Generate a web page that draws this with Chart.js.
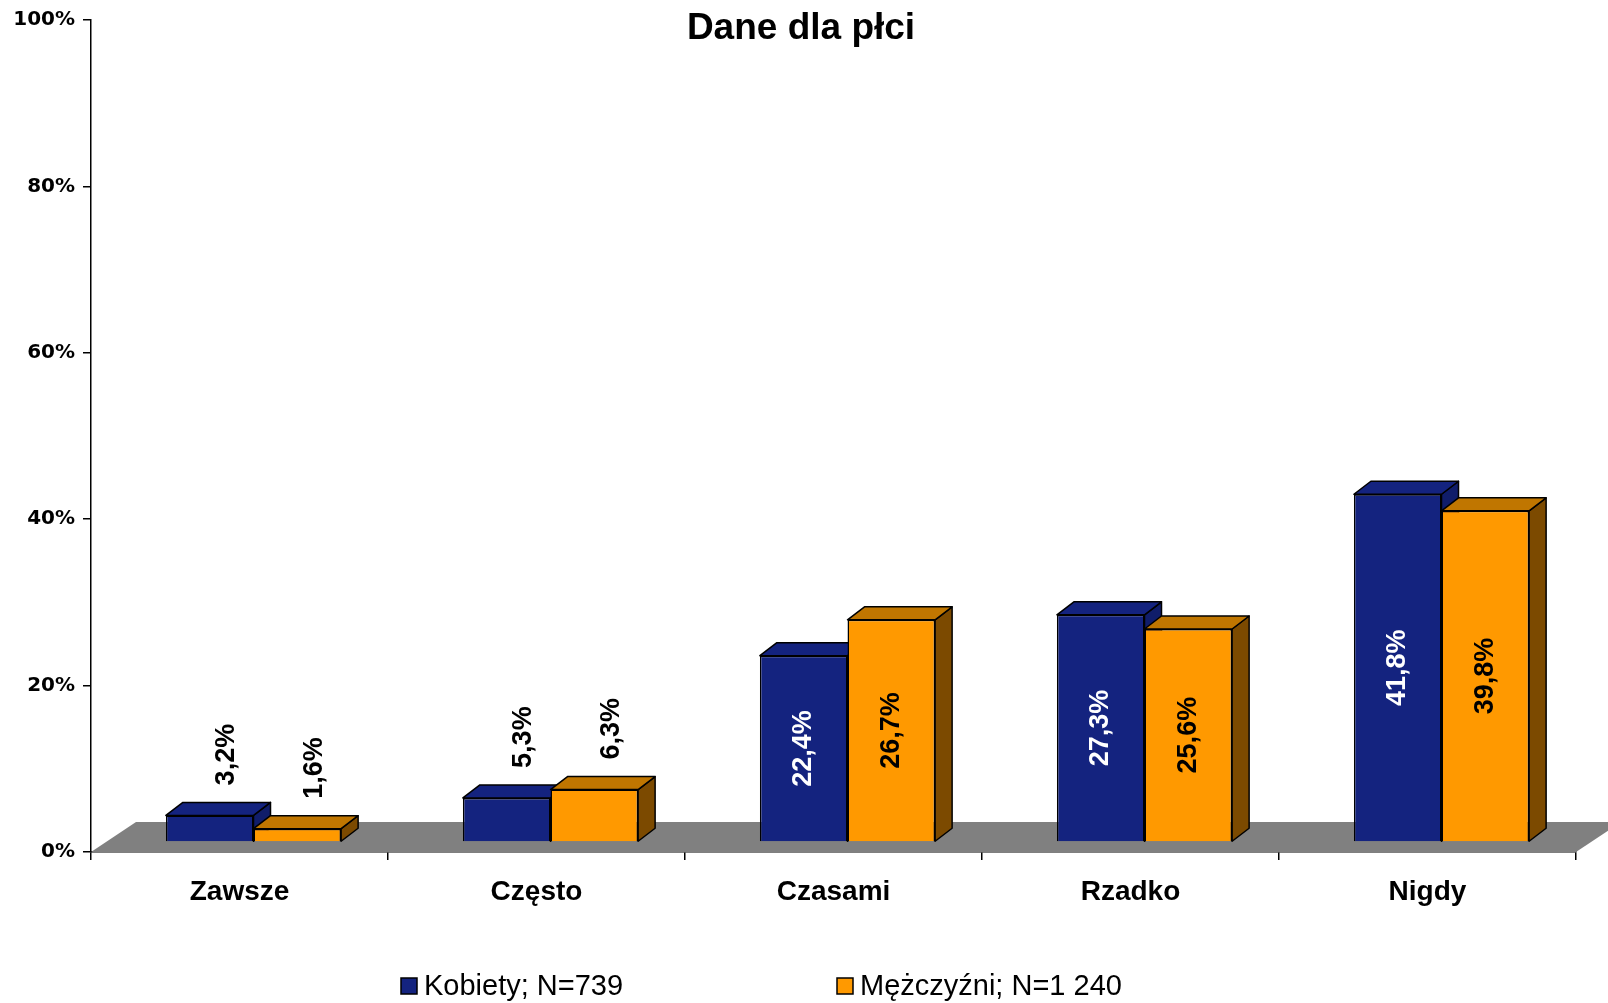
<!DOCTYPE html>
<html lang="pl">
<head>
    <meta charset="UTF-8">
    <title>Dane dla płci</title>
    <style>
        html, body { margin: 0; padding: 0; background: #fff; }
        canvas { display: block; }
    </style>
</head>
<body>
    <canvas id="chart" width="1608" height="1003"></canvas>

    <script src="https://cdn.jsdelivr.net/npm/chart.js"></script>
    <script>
        const categories = ['Zawsze', 'Często', 'Czasami', 'Rzadko', 'Nigdy'];
        const womenValues = [3.2, 5.3, 22.4, 27.3, 41.8];
        const menValues = [1.6, 6.3, 26.7, 25.6, 39.8];
        const seriesNames = ['Kobiety; N=739', 'Mężczyźni; N=1 240'];
        const yTicks = [0, 20, 40, 60, 80, 100];

        const FONT = '"Liberation Sans", Arial, sans-serif';

        // depth of a single bar, depth of the floor, and where the bar row sits on the floor
        const DX = 17, DY = 13;
        const FLOOR_X = 45, FLOOR_Y = 30;
        const SHIFT_X = 14, SHIFT_Y = 10;

        const fmt = v => v.toFixed(1).replace('.', ',') + '%';

        function poly(ctx, pts, fill) {
            ctx.beginPath();
            ctx.moveTo(pts[0][0], pts[0][1]);
            for (let i = 1; i < pts.length; i++) ctx.lineTo(pts[i][0], pts[i][1]);
            ctx.closePath();
            ctx.fillStyle = fill;
            ctx.fill();
            ctx.stroke();
        }

        const bars3d = {
            id: 'bars3d',
            beforeDatasetsDraw(chart) {
                const { ctx, chartArea: a } = chart;
                ctx.save();
                ctx.fillStyle = '#808080';
                ctx.beginPath();
                ctx.moveTo(a.left, a.bottom);
                ctx.lineTo(a.left + FLOOR_X, a.bottom - FLOOR_Y);
                ctx.lineTo(a.right + FLOOR_X, a.bottom - FLOOR_Y);
                ctx.lineTo(a.right, a.bottom);
                ctx.closePath();
                ctx.fill();
                ctx.restore();
            },
            // the default pass paints the last series first; bars are painted below instead,
            // left series first so the right one covers its side face
            beforeDatasetDraw() {
                return false;
            },
            afterDatasetsDraw(chart) {
                const ctx = chart.ctx;
                ctx.save();
                ctx.translate(SHIFT_X, -SHIFT_Y);

                chart.data.datasets.forEach((ds, i) => {
                    const meta = chart.getDatasetMeta(i);
                    ctx.save();
                    ctx.lineWidth = 1.5;
                    ctx.strokeStyle = '#000';
                    ctx.lineJoin = 'round';
                    meta.data.forEach(bar => {
                        const { x, y, base, width } = bar.getProps(['x', 'y', 'base', 'width'], true);
                        const l = x - width / 2, r = x + width / 2;
                        poly(ctx, [[r, y], [r + DX, y - DY], [r + DX, base - DY], [r, base]], ds.sideColor);
                        poly(ctx, [[l, y], [l + DX, y - DY], [r + DX, y - DY], [r, y]], ds.topColor);
                    });
                    ctx.restore();
                    meta.controller.draw();
                });

                ctx.font = 'bold 27px ' + FONT;
                chart.data.datasets.forEach((ds, i) => {
                    chart.getDatasetMeta(i).data.forEach((bar, j) => {
                        const text = fmt(ds.data[j]);
                        const tw = ctx.measureText(text).width;
                        const h = bar.base - bar.y;
                        ctx.save();
                        if (tw + 20 < h) {
                            ctx.translate(bar.x, (bar.y + bar.base) / 2);
                            ctx.rotate(-Math.PI / 2);
                            ctx.textAlign = 'center';
                            ctx.fillStyle = ds.labelColor;
                        } else {
                            ctx.translate(bar.x + DX, bar.y - DY - 17);
                            ctx.rotate(-Math.PI / 2);
                            ctx.textAlign = 'left';
                            ctx.fillStyle = '#000';
                        }
                        ctx.textBaseline = 'middle';
                        ctx.fillText(text, 0, 0);
                        ctx.restore();
                    });
                });
                ctx.restore();
            },
            afterDraw(chart) {
                const ctx = chart.ctx;
                ctx.save();
                ctx.fillStyle = '#000';
                ctx.font = 'bold 37px ' + FONT;
                ctx.textAlign = 'center';
                ctx.textBaseline = 'middle';
                ctx.fillText('Dane dla płci', 801, 29);

                // legend
                const legendX = [401, 837];
                ctx.font = '29px ' + FONT;
                ctx.textAlign = 'left';
                chart.data.datasets.forEach((ds, i) => {
                    const bx = legendX[i], by = 978;
                    ctx.fillStyle = ds.backgroundColor;
                    ctx.fillRect(bx, by, 16, 16);
                    ctx.lineWidth = 1.5;
                    ctx.strokeStyle = '#000';
                    ctx.strokeRect(bx, by, 16, 16);
                    ctx.fillStyle = '#000';
                    ctx.fillText(ds.label, bx + 23, by + 9);
                });
                ctx.restore();
            }
        };

        new Chart(document.getElementById('chart'), {
            type: 'bar',
            data: {
                labels: categories,
                datasets: [
                    {
                        label: seriesNames[0],
                        data: womenValues,
                        backgroundColor: '#14237f',
                        topColor: '#14237f',
                        sideColor: '#101d6a',
                        labelColor: '#fff',
                        borderColor: '#000',
                        borderWidth: 1.5
                    },
                    {
                        label: seriesNames[1],
                        data: menValues,
                        backgroundColor: '#ff9900',
                        topColor: '#c07600',
                        sideColor: '#7c4a00',
                        labelColor: '#000',
                        borderColor: '#000',
                        borderWidth: 1.5
                    }
                ]
            },
            options: {
                responsive: false,
                animation: false,
                layout: { padding: { top: 20, right: 32, left: 0, bottom: 0 } },
                datasets: {
                    bar: { barPercentage: 1, categoryPercentage: 0.59, clip: false }
                },
                plugins: {
                    legend: { display: false },
                    title: { display: false },
                    tooltip: { enabled: false }
                },
                scales: {
                    x: {
                        z: 1,
                        afterFit: s => { s.height = 151; },
                        border: { display: true, color: '#000', width: 1.5 },
                        grid: { display: true, drawOnChartArea: false, offset: true, tickLength: 8, color: '#000', lineWidth: 1.5 },
                        ticks: { color: '#000', padding: 15, font: { family: FONT, size: 28, weight: 'bold' } }
                    },
                    y: {
                        z: 1,
                        min: 0,
                        max: 100,
                        afterFit: s => { s.width = 91; },
                        afterBuildTicks: s => { s.ticks = yTicks.map(v => ({ value: v })); },
                        border: { display: true, color: '#000', width: 1.5 },
                        grid: { display: true, drawOnChartArea: false, tickLength: 8, color: '#000', lineWidth: 1.5 },
                        ticks: {
                            color: '#000',
                            padding: 8,
                            font: { family: '"DejaVu Sans", sans-serif', size: 20, weight: 'bold' },
                            callback: v => v + '%'
                        }
                    }
                }
            },
            plugins: [bars3d]
        });
    </script>
</body>
</html>
